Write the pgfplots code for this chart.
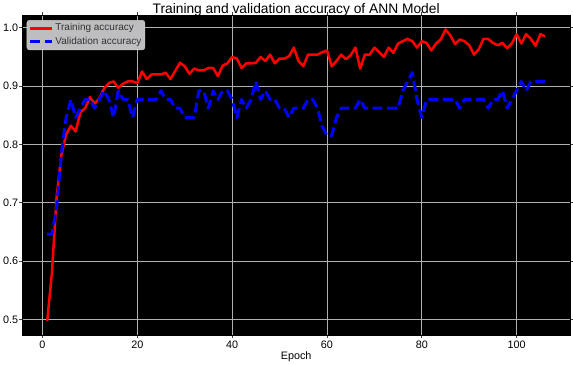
\documentclass[border=0pt]{standalone}
\usepackage{fontspec}
\setmainfont{Liberation Sans}
\usepackage{pgfplots}
\usepackage{pgfplotstable}
\pgfplotsset{compat=1.18}
\definecolor{gridc}{RGB}{176,176,176}
\definecolor{legfill}{RGB}{190,190,192}
\definecolor{legdraw}{RGB}{205,205,205}

\pgfplotstableread{
epoch train
1 0.497
2 0.580
3 0.711
4 0.782
5 0.817
6 0.832
7 0.822
8 0.855
9 0.862
10 0.881
11 0.870
12 0.879
13 0.896
14 0.905
15 0.908
16 0.897
17 0.904
18 0.908
19 0.908
20 0.905
21 0.925
22 0.912
23 0.920
24 0.920
25 0.920
26 0.923
27 0.912
28 0.926
29 0.940
30 0.934
31 0.921
32 0.930
33 0.927
34 0.927
35 0.931
36 0.931
37 0.917
38 0.935
39 0.939
40 0.950
41 0.947
42 0.931
43 0.939
44 0.939
45 0.940
46 0.950
47 0.943
48 0.954
49 0.939
50 0.947
51 0.947
52 0.951
53 0.966
54 0.943
55 0.934
56 0.954
57 0.954
58 0.954
59 0.958
60 0.961
61 0.934
62 0.943
63 0.954
64 0.946
65 0.953
66 0.966
67 0.930
68 0.954
69 0.954
70 0.966
71 0.958
72 0.950
73 0.966
74 0.957
75 0.973
76 0.977
77 0.981
78 0.977
79 0.966
80 0.977
81 0.974
82 0.961
83 0.973
84 0.980
85 0.997
86 0.987
87 0.972
88 0.980
89 0.977
90 0.970
91 0.954
92 0.963
93 0.981
94 0.981
95 0.974
96 0.970
97 0.974
98 0.965
99 0.973
100 0.989
101 0.973
102 0.989
103 0.981
104 0.969
105 0.989
106 0.985
}\traintable

\pgfplotstableread{
epoch val
1 0.646
2 0.646
3 0.692
4 0.785
5 0.846
6 0.877
7 0.846
8 0.862
9 0.877
10 0.877
11 0.862
12 0.877
13 0.892
14 0.877
15 0.846
16 0.892
17 0.877
18 0.877
19 0.846
20 0.877
21 0.877
22 0.877
23 0.877
24 0.877
25 0.892
26 0.877
27 0.877
28 0.862
29 0.862
30 0.846
31 0.846
32 0.846
33 0.892
34 0.892
35 0.862
36 0.892
37 0.877
38 0.892
39 0.892
40 0.877
41 0.846
42 0.877
43 0.862
44 0.877
45 0.908
46 0.877
47 0.892
48 0.877
49 0.877
50 0.862
51 0.862
52 0.846
53 0.862
54 0.862
55 0.862
56 0.877
57 0.877
58 0.862
59 0.831
60 0.815
61 0.815
62 0.846
63 0.862
64 0.862
65 0.862
66 0.862
67 0.877
68 0.862
69 0.862
70 0.862
71 0.862
72 0.862
73 0.862
74 0.862
75 0.862
76 0.892
77 0.908
78 0.923
79 0.877
80 0.846
81 0.877
82 0.877
83 0.877
84 0.877
85 0.877
86 0.877
87 0.877
88 0.862
89 0.877
90 0.877
91 0.877
92 0.877
93 0.877
94 0.862
95 0.877
96 0.877
97 0.892
98 0.862
99 0.877
100 0.892
101 0.908
102 0.892
103 0.908
104 0.908
105 0.908
106 0.908
}\valtable

\begin{document}
\begin{tikzpicture}
\begin{axis}[
  name=ax,
  scale only axis,
  width=547.7bp, height=320.3bp,
  xmin=-4.25, xmax=111.25,
  ymin=0.4726, ymax=1.0219,
  axis background/.style={fill=black},
  axis line style={black, line width=0.8bp},
  grid=major,
  grid style={gridc, line width=0.9bp},
  tick align=outside,
  major tick length=3bp,
  tick style={black!75, line width=0.8bp},
  xtick={0,20,40,60,80,100},
  ytick={0.5,0.6,0.7,0.8,0.9,1.0},
  /pgf/number format/assume math mode=true,
  yticklabel style={/pgf/number format/fixed, /pgf/number format/fixed zerofill, /pgf/number format/precision=1, inner sep=1bp},
  tick label style={font=\fontsize{10.8bp}{13bp}\selectfont, black},
  xticklabel style={anchor=base, yshift=-10.3bp},
  xlabel={Epoch},
  xlabel style={font=\fontsize{10.8bp}{13bp}\selectfont, at={(axis description cs:0.5,0)}, anchor=base, yshift=-23.7bp},
  every axis title shift=0pt,
  title={Training and validation accuracy of ANN Model},
  title style={font=\fontsize{13.8bp}{16bp}\selectfont, at={(axis description cs:0.5,1)}, anchor=base, yshift=1.8bp},
  legend cell align=left,
  legend image code/.code={\draw[#1] (0bp,0bp) -- (22bp,0bp);},
  legend style={
    at={(0.008,0.984)}, anchor=north west,
    fill=legfill, draw=legdraw, rounded corners=2.5bp,
    font=\fontsize{10bp}{12bp}\selectfont, text=black!80,
    inner xsep=2bp, inner ysep=1.5bp, row sep=0.5bp,
    nodes={inner sep=1.5bp, text height=7.5bp, text depth=2.5bp},
  },
]
\addplot[red, line width=2.5bp, line join=round] table[x=epoch, y=train] {\traintable};
\addlegendentry{Training accuracy}
\addplot[blue, line width=3bp, line join=round, dash pattern=on 10bp off 4.5bp] table[x=epoch, y=val] {\valtable};
\addlegendentry{Validation accuracy}
\end{axis}
\pgfresetboundingbox
\path ([shift={(-22.3bp,-29.7bp)}]ax.south west) rectangle ([shift={(3bp,15bp)}]ax.north east);
\end{tikzpicture}
\end{document}
